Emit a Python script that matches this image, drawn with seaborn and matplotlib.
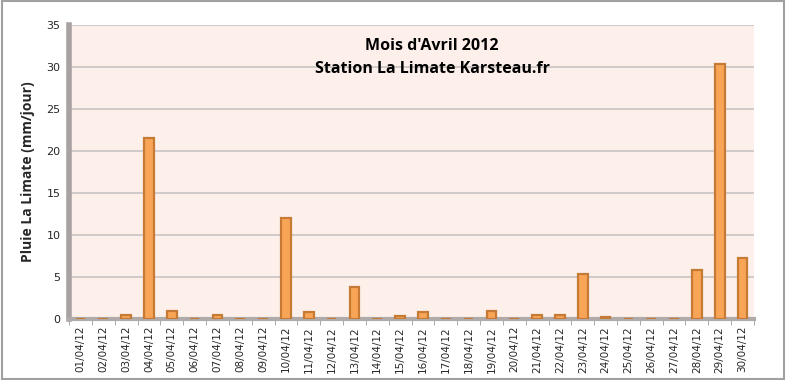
import numpy as np
import pandas as pd
import matplotlib
matplotlib.use('Agg')
import matplotlib.pyplot as plt
import seaborn as sns
from matplotlib.patches import Rectangle

# Pluie journaliere - avril 2012
jours = ['%02d/04/12' % d for d in range(1, 31)]
pluie = [0, 0, 0.5, 21.6, 1.0, 0, 0.5, 0, 0, 12.0,
         0.8, 0, 3.8, 0, 0.3, 0.8, 0, 0, 1.0, 0,
         0.5, 0.5, 5.3, 0.2, 0, 0, 0, 5.8, 30.4, 7.3]
y_ticks = [0, 5, 10, 15, 20, 25, 30, 35]

df = pd.DataFrame({'Jour': jours, 'Pluie': pluie})

sns.set_style('white')
fig = plt.figure(figsize=(7.86, 3.80), dpi=100)
ax = fig.add_axes([69 / 786, 1 - 319 / 380, (754 - 69) / 786, (319 - 25) / 380])

ax.set_facecolor('#fdf0eb')
sns.barplot(data=df, x='Jour', y='Pluie', color='#f9a557', edgecolor='#c57a36',
            linewidth=1.6, width=0.42, saturation=1, ax=ax, zorder=3)

ax.set_ylim(0, 35)
ax.set_yticks(y_ticks)
ax.set_xlim(-0.5, len(jours) - 0.5)
ax.set_xticks(np.arange(len(jours) + 1) - 0.5, minor=True)
ax.yaxis.grid(True, color='#c8c4c4', linewidth=1.2, zorder=0)
ax.set_axisbelow(True)

for side in ['top', 'right']:
    ax.spines[side].set_visible(False)
ax.spines['left'].set_color('#a8a2a2')
ax.spines['left'].set_linewidth(4)
ax.spines['bottom'].set_color('#b0aaaa')
ax.spines['bottom'].set_linewidth(3)

ax.tick_params(axis='y', labelsize=8, length=4, color='#888888', pad=2)
ax.tick_params(axis='x', which='major', labelsize=7.5, rotation=90, length=0, pad=5)
ax.tick_params(axis='x', which='minor', length=4, color='#999999', bottom=True)
ax.set_xlabel('')
ax.set_ylabel('Pluie La Limate (mm/jour)', fontsize=10, fontweight='bold',
              family=['Open Sans', 'DejaVu Sans'], labelpad=8)

ax.text(0.53, 0.955, "Mois d'Avril 2012\nStation La Limate Karsteau.fr",
        transform=ax.transAxes, ha='center', va='top', fontsize=11.5,
        fontweight='bold', family=['Open Sans', 'DejaVu Sans'],
        linespacing=1.55, color='black')

fig.patches.append(Rectangle((0.002, 0.003), 0.996, 0.994, transform=fig.transFigure,
                             fill=False, edgecolor='#a0a0a0', linewidth=1.5))

fig.savefig('out.png', dpi=100)
